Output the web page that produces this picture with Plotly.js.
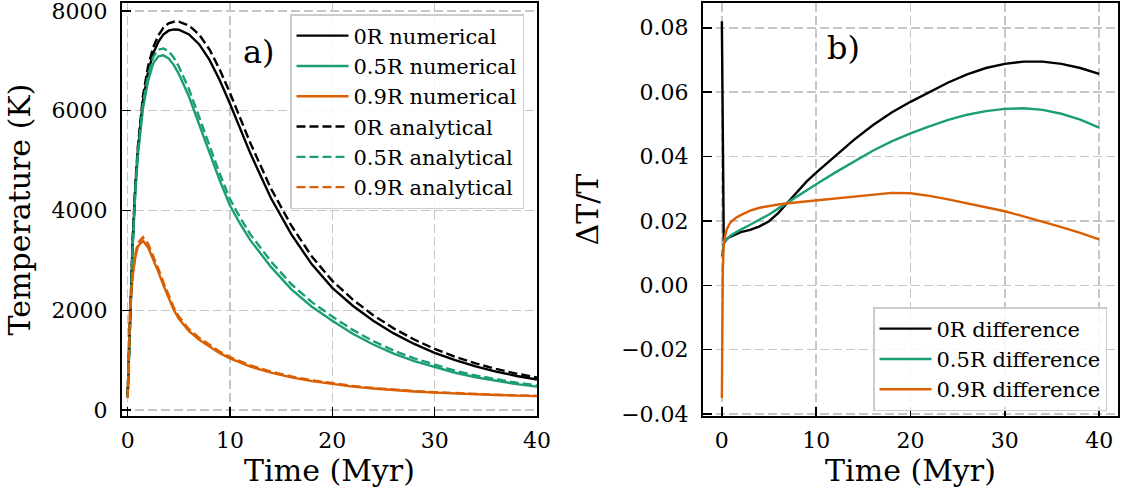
<!DOCTYPE html>
<html>
<head>
<meta charset="utf-8">
<script src="https://cdn.plot.ly/plotly-3.0.1.min.js"></script>
<style>
html,body{margin:0;padding:0;background:#ffffff;}
#chart{width:1123px;height:492px;}
</style>
</head>
<body>
<div id="chart"></div>
<script>
// ---------- Panel a) : temperature vs time ----------
const timeA = [0, 0.25, 0.5, 0.75, 1, 1.5, 2, 2.5, 3, 3.5, 4, 4.5, 5, 6, 7, 8, 9, 10, 11, 12, 14, 16, 18, 20, 22, 24, 26, 28, 30, 32, 34, 36, 38, 40];
const num0R = [254, 1900, 3400, 4450, 5200, 6200, 6780, 7150, 7380, 7530, 7605, 7630, 7625, 7530, 7330, 7020, 6610, 6140, 5640, 5141, 4250, 3520, 2920, 2450, 2090, 1788, 1536, 1324, 1147, 999, 874, 770, 683, 610];
const num05R = [254, 1850, 3300, 4350, 5100, 6050, 6600, 6950, 7090, 7110, 7050, 6920, 6740, 6280, 5720, 5150, 4600, 4100, 3730, 3400, 2870, 2420, 2070, 1790, 1530, 1313, 1132, 982, 857, 747, 656, 581, 520, 469];
const num09R = [254, 2050, 2700, 3060, 3280, 3395, 3260, 3020, 2770, 2500, 2240, 2010, 1830, 1580, 1410, 1270, 1140, 1035, 950, 870, 750, 655, 580, 520, 470, 430, 397, 370, 349, 330, 314, 301, 289, 279];
const ana0R = [275, 1927, 3449, 4519, 5281, 6300, 6894, 7274, 7511, 7669, 7751, 7783, 7785, 7707, 7524, 7228, 6825, 6355, 5852, 5348, 4442, 3695, 3077, 2590, 2215, 1901, 1637, 1413, 1226, 1068, 935, 823, 729, 650];
const ana05R = [256, 1874, 3347, 4415, 5180, 6150, 6714, 7075, 7223, 7249, 7194, 7067, 6888, 6430, 5868, 5293, 4736, 4229, 3854, 3519, 2980, 2521, 2163, 1874, 1606, 1380, 1192, 1035, 904, 788, 692, 612, 547, 492];
const ana09R = [245, 2079, 2746, 3118, 3345, 3466, 3331, 3088, 2834, 2559, 2294, 2059, 1875, 1620, 1446, 1303, 1170, 1062, 975, 893, 771, 674, 597, 535, 483, 441, 407, 379, 357, 337, 320, 306, 294, 283];

// ---------- Panel b) : relative difference ----------
const timeB = [0, 0.1, 0.2, 0.3, 0.5, 0.75, 1, 1.5, 2, 3, 4, 5, 6, 7, 8, 9, 10, 12, 14, 16, 18, 20, 22, 24, 26, 28, 30, 32, 34, 36, 38, 40];
const diff0R = [0.082, 0.040, 0.0140, 0.0135, 0.0143, 0.0149, 0.0152, 0.0160, 0.0165, 0.0172, 0.0183, 0.0199, 0.0225, 0.0258, 0.0292, 0.0323, 0.0350, 0.0402, 0.0452, 0.0497, 0.0537, 0.0570, 0.0600, 0.0630, 0.0655, 0.0675, 0.0688, 0.0695, 0.0695, 0.0688, 0.0675, 0.0657];
const diff05R = [0.009, 0.0115, 0.0128, 0.0135, 0.0143, 0.0150, 0.0156, 0.0165, 0.0173, 0.0188, 0.0204, 0.0220, 0.0239, 0.0258, 0.0277, 0.0296, 0.0314, 0.0350, 0.0385, 0.0418, 0.0447, 0.0472, 0.0494, 0.0514, 0.0530, 0.0541, 0.0548, 0.0550, 0.0545, 0.0533, 0.0515, 0.0490];
const diff09R = [-0.035, 0.005, 0.0125, 0.0148, 0.0172, 0.0188, 0.0198, 0.0210, 0.0218, 0.0232, 0.0241, 0.0247, 0.0251, 0.0255, 0.0258, 0.0261, 0.0264, 0.0270, 0.0277, 0.0283, 0.0287, 0.0286, 0.0278, 0.0267, 0.0255, 0.0243, 0.0230, 0.0214, 0.0198, 0.0181, 0.0163, 0.0143];

// ---------- ticks ----------
const timeTicks = [0, 10, 20, 30, 40];
const tempTicks = [0, 2000, 4000, 6000, 8000];
const diffTicks = [-0.04, -0.02, 0.00, 0.02, 0.04, 0.06, 0.08];

const namesA = ['0R numerical', '0.5R numerical', '0.9R numerical', '0R analytical', '0.5R analytical', '0.9R analytical'];
const namesB = ['0R difference', '0.5R difference', '0.9R difference'];

const BLACK = '#000000', GREEN = '#1b9e77', ORANGE = '#d95f02';
const FONT = 'DejaVu Serif';
const LW = 2.4;

function lineTrace(x, y, name, color, dash, xa, ya, leg, grp) {
  return {
    type: 'scatter', mode: 'lines', x: x, y: y, name: name,
    xaxis: xa, yaxis: ya, legend: leg, legendgroup: grp,
    line: {color: color, width: LW, dash: dash},
    hoverinfo: 'skip'
  };
}

const DASH = '9px,4px';
const data = [
  lineTrace(timeA, num0R, namesA[0], BLACK, 'solid', 'x', 'y', 'legend', 'a1'),
  lineTrace(timeA, num05R, namesA[1], GREEN, 'solid', 'x', 'y', 'legend', 'a2'),
  lineTrace(timeA, num09R, namesA[2], ORANGE, 'solid', 'x', 'y', 'legend', 'a3'),
  lineTrace(timeA, ana0R, namesA[3], BLACK, DASH, 'x', 'y', 'legend', 'a4'),
  lineTrace(timeA, ana05R, namesA[4], GREEN, DASH, 'x', 'y', 'legend', 'a5'),
  lineTrace(timeA, ana09R, namesA[5], ORANGE, DASH, 'x', 'y', 'legend', 'a6'),
  lineTrace(timeB, diff0R, namesB[0], BLACK, 'solid', 'x2', 'y2', 'legend2', 'b1'),
  lineTrace(timeB, diff05R, namesB[1], GREEN, 'solid', 'x2', 'y2', 'legend2', 'b2'),
  lineTrace(timeB, diff09R, namesB[2], ORANGE, 'solid', 'x2', 'y2', 'legend2', 'b3')
];

function axisBase() {
  return {
    showline: true, linecolor: '#000', linewidth: 2, mirror: true,
    ticks: 'inside', ticklen: 9, tickwidth: 1.5, tickcolor: '#000',
    showgrid: true, gridcolor: '#c6c6c6', gridwidth: 1.5, griddash: '9px,4px',
    zeroline: false, automargin: false, ticklabeloverflow: 'allow',
    tickfont: {family: FONT, size: 22, color: '#000'}
  };
}

const H = 492, W = 1123;
const yDom = [(H - 416) / H, (H - 3) / H];
const TITLEFONT = {family: FONT, size: 30, color: '#000'};

const layout = {
  width: W, height: H,
  margin: {l: 0, r: 0, t: 0, b: 0},
  paper_bgcolor: '#ffffff', plot_bgcolor: '#ffffff',
  font: {family: FONT, size: 21, color: '#000'},
  showlegend: true,
  xaxis: Object.assign(axisBase(), {
    domain: [122 / W, 537 / W], range: [-0.55, 40], anchor: 'y',
    tickmode: 'array', tickvals: timeTicks, ticklabelstandoff: 4,
    title: {text: 'Time (Myr)', font: TITLEFONT, standoff: 8}
  }),
  yaxis: Object.assign(axisBase(), {
    domain: yDom, range: [-120, 8160], anchor: 'x',
    tickmode: 'array', tickvals: tempTicks, ticklabelstandoff: 8,
    title: {text: 'Temperature (K)', font: TITLEFONT, standoff: 12}
  }),
  xaxis2: Object.assign(axisBase(), {
    domain: [703 / W, 1118 / W], range: [-2, 42], anchor: 'y2',
    tickmode: 'array', tickvals: timeTicks, ticklabelstandoff: 4,
    title: {text: 'Time (Myr)', font: TITLEFONT, standoff: 8}
  }),
  yaxis2: Object.assign(axisBase(), {
    domain: yDom, range: [-0.0406, 0.0877], anchor: 'x2',
    tickmode: 'array', tickvals: diffTicks, tickformat: '.2f', ticklabelstandoff: 8,
    title: {text: 'ΔT/T', font: TITLEFONT, standoff: 14}
  }),
  legend: {
    x: 290 / W, y: (H - 14) / H, xanchor: 'left', yanchor: 'top',
    bgcolor: 'rgba(255,255,255,0.85)', bordercolor: '#cccccc', borderwidth: 1.5,
    font: {family: FONT, size: 21, color: '#000'},
    traceorder: 'normal', tracegroupgap: 3, itemwidth: 52
  },
  legend2: {
    x: 1107 / W, y: (H - 307) / H, xanchor: 'right', yanchor: 'top',
    bgcolor: 'rgba(255,255,255,0.85)', bordercolor: '#cccccc', borderwidth: 1.5,
    font: {family: FONT, size: 21, color: '#000'},
    traceorder: 'normal', tracegroupgap: 3, itemwidth: 52
  },
  annotations: [
    {text: 'a)', xref: 'paper', yref: 'paper', x: 259 / W, y: (H - 52) / H, xanchor: 'center', yanchor: 'middle', showarrow: false, font: {family: FONT, size: 32, color: '#000'}},
    {text: 'b)', xref: 'paper', yref: 'paper', x: 843 / W, y: (H - 48) / H, xanchor: 'center', yanchor: 'middle', showarrow: false, font: {family: FONT, size: 32, color: '#000'}}
  ]
};

Plotly.newPlot('chart', data, layout, {staticPlot: true, displayModeBar: false});
</script>
</body>
</html>
